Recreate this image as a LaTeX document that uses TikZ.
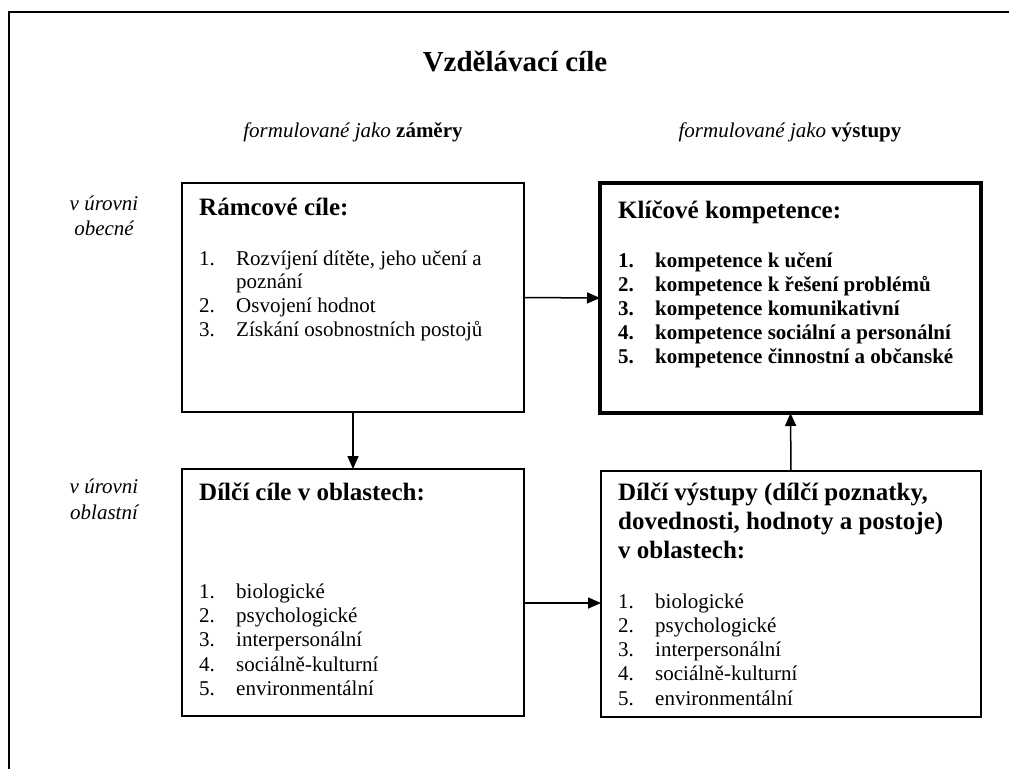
\documentclass[tikz,border=0pt]{standalone}
\usepackage{fontspec}
\setmainfont{Liberation Serif}
\usetikzlibrary{arrows.meta}
\begin{document}
\begin{tikzpicture}[x=1pt,y=1pt,
  box/.style={draw, line width=1.5pt, inner sep=0, outer sep=0},
  thickbox/.style={draw, line width=4pt, inner sep=0, outer sep=0},
  arr/.style={line width=1.5pt, -{Triangle[length=13pt,width=11pt]}},
  txt/.style={anchor=base west, inner sep=0, font=\fontsize{21}{24}\selectfont},
  btxt/.style={anchor=base west, inner sep=0, font=\fontsize{21}{24}\selectfont\bfseries},
  head/.style={anchor=base west, inner sep=0, font=\fontsize{25}{29}\selectfont\bfseries},
  side/.style={anchor=base, inner sep=0, font=\fontsize{21}{24}\selectfont\itshape},
  sub/.style={anchor=base, inner sep=0, font=\fontsize{21}{24}\selectfont},
]
\useasboundingbox (0,0) rectangle (1009,-769);
\draw[line width=2pt] (9,-769) -- (9,-12) -- (1009,-12);

\node[anchor=base, inner sep=0, font=\fontsize{29}{34}\selectfont\bfseries] (title) at (515,-71) {Vzdělávací cíle};
\node[sub] (subl) at (353,-137) {\textit{formulované jako} \textbf{záměry}};
\node[sub] (subr) at (790,-137) {\textit{formulované jako} \textbf{výstupy}};

\node[side] (s1a) at (104,-210) {v úrovni};
\node[side] (s1b) at (104,-235) {obecné};
\node[side] (s2a) at (104,-493) {v úrovni};
\node[side] (s2b) at (104,-519) {oblastní};

% boxes
\node[box, minimum width=342pt, minimum height=229pt] (ram) at (353,-297.5) {};
\node[thickbox, minimum width=381pt, minimum height=230pt] (klic) at (790.5,-298) {};
\node[box, minimum width=342pt, minimum height=247pt] (dc) at (353,-592.5) {};
\node[box, minimum width=380pt, minimum height=246pt] (dv) at (791,-594) {};

% Ramcove cile
\node[head] (ramh) at (199,-215) {Rámcové cíle:};
\node[txt] (rn1) at (199,-265) {1.};
\node[txt] (ri1) at (236,-265) {Rozvíjení dítěte, jeho učení a};
\node[txt] (ri1b) at (236,-288) {poznání};
\node[txt] (rn2) at (199,-312) {2.};
\node[txt] (ri2) at (236,-312) {Osvojení hodnot};
\node[txt] (rn3) at (199,-336) {3.};
\node[txt] (ri3) at (236,-336) {Získání osobnostních postojů};

% Klicove kompetence
\node[head] (klh) at (618,-218) {Klíčové kompetence:};
\foreach \i/\t [count=\k from 0] in {1/kompetence k učení,2/kompetence k řešení problémů,3/kompetence komunikativní,4/kompetence sociální a personální,5/kompetence činnostní a občanské}{
  \node[btxt] (kn\i) at (618,-267-24*\k) {\i.};
  \node[btxt] (ki\i) at (655,-267-24*\k) {\t};
}

% Dilci cile
\node[head] (dch) at (199,-500) {Dílčí cíle v oblastech:};
\foreach \i/\t [count=\k from 0] in {1/biologické,2/psychologické,3/interpersonální,4/sociálně-kulturní,5/environmentální}{
  \node[txt] (dcn\i) at (199,-598-24.4*\k) {\i.};
  \node[txt] (dci\i) at (236,-598-24.4*\k) {\t};
}

% Dilci vystupy
\node[head] (dvh1) at (618,-500) {Dílčí výstupy (dílčí poznatky,};
\node[head] (dvh2) at (618,-529) {dovednosti, hodnoty a postoje)};
\node[head] (dvh3) at (618,-558) {v oblastech:};
\foreach \i/\t [count=\k from 0] in {1/biologické,2/psychologické,3/interpersonální,4/sociálně-kulturní,5/environmentální}{
  \node[txt] (dvn\i) at (618,-608-24.3*\k) {\i.};
  \node[txt] (dvi\i) at (655,-608-24.3*\k) {\t};
}

% connectors
\draw[arr] (ram.east) -- (klic.west);
\draw[arr] (ram.south) -- (dc.north);
\draw[arr] (dv.north) -- (klic.south);
\path (dc.east) ++(0,-10.5) coordinate (a4);
\draw[arr] (a4) -- (a4 -| dv.west);
\end{tikzpicture}
\end{document}
